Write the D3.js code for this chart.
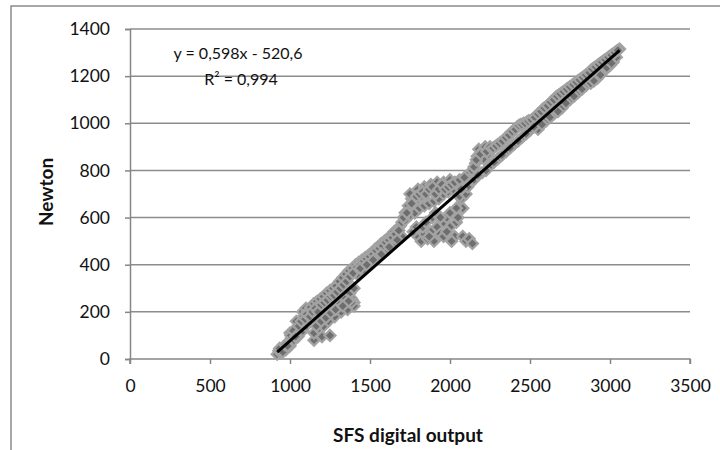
<!DOCTYPE html>
<html><head><meta charset="utf-8">
<script src="https://cdn.jsdelivr.net/npm/d3@7"></script>
<style>body{margin:0;background:#fff;} svg{display:block;font-family:Lato,"Open Sans",sans-serif;}</style>
</head><body><svg id="c" width="720" height="450"></svg>
<script>
// SFS digital output (x) vs Newton (y)
const xValues = [
 920,930,945,960,975,990,1000,1010,1025,1040,1050,1065,1080,1090,1100,
 1000,1040,1080,1100,1150,1200,1250,
 1110,1130,1150,1170,1190,1210,1230,1250,1270,1290,1310,1330,1350,1370,1390,
 1120,1150,1180,1200,1230,1260,1290,1320,1350,
 1150,1180,1210,1240,1280,1320,1350,1370,1390,1400,1380,1360,
 1410,1430,1450,1470,1490,1510,1530,1550,1570,1590,1610,1630,1650,1670,1690,1700,
 1420,1460,1500,1550,1600,1650,1700,
 1720,1740,1760,1780,1800,1820,1840,1860,1880,1900,1920,1940,1960,1980,2000,1750,1770,1790,
 1720,1750,1780,1810,1840,1870,1900,1930,1960,1990,2020,2050,2080,2110,
 1800,1820,1840,1860,1880,1900,1920,1940,1960,1980,2000,2020,2040,2060,2070,2050,2030,2010,2080,2100,2120,2140,1890,1910,1960,1770,1790,
 2060,2080,2100,2120,2110,
 2140,2160,2170,2180,2200,2210,2220,2240,2260,2280,2300,2320,2340,2360,2380,2400,2420,2440,2460,2480,2500,
 2150,2200,2250,2300,2350,2400,2450,2500,
 2520,2540,2560,2580,2600,2620,2640,2660,2680,2700,2720,2740,2760,2780,2800,2820,2840,2860,2880,2900,2920,2940,2960,2980,3000,3020,3040,3060,
 2550,2600,2650,2700,2750,2800,2850,2880,2920,2960,3000,3020,3040,
 935,955,970,985,1005,1020,1035,1055,1070,1085,1095,1105,1125,1140,1160,1175,1195,1215,1235,1255,1275,1295,1315,1335,1355,1375,1395,
 1165,1195,1225,1255,1285,1315,1345,1375,1400,1400,1385,1365,1330,
 1420,1440,1460,1480,1500,1520,1540,1560,1580,1600,1620,1640,1660,1680,1440,1480,1520,1570,1620,1670,
 1710,1730,1760,1790,1810,1830,1850,1870,1890,1910,1930,1950,1970,1990,2010,2030,2060,2090,1830,1850,1870,1940,1980,2000,2040,2070,
 2150,2165,2190,2230,2250,2270,2290,2310,2330,2350,2370,2390,2410,2430,2450,2470,2490,2175,2225,2275,2325,2375,2425,2475,
 2510,2530,2550,2570,2590,2610,2630,2650,2670,2690,2710,2730,2750,2770,2790,2810,2830,2850,2870,2890,2910,2930,2950,2970,2990,3010,3030,3050,
 2525,2575,2625,2675,2725,2775,2825,2900,2940,2980,3010
];
const yValues = [
 20,35,25,50,40,70,55,90,80,110,95,130,120,150,140,
 110,160,200,215,80,95,100,
 200,220,235,245,255,265,280,290,300,310,330,345,360,375,385,
 160,170,190,200,210,230,250,270,290,
 110,130,140,160,180,200,220,235,250,240,260,210,
 400,410,420,430,440,450,465,475,490,500,510,525,540,550,565,580,
 360,380,400,430,460,490,520,
 620,650,680,700,720,690,730,710,740,720,750,730,750,740,760,700,640,660,
 590,610,620,640,650,660,670,680,700,710,720,740,760,780,
 520,500,530,510,540,500,560,530,580,600,560,620,580,650,680,600,520,500,520,500,510,490,600,620,520,540,560,
 690,640,700,760,730,
 800,830,860,890,880,850,900,870,890,900,910,920,930,945,960,970,985,995,1000,1005,1010,
 760,790,820,850,880,910,940,970,
 1020,1030,1045,1060,1070,1080,1095,1110,1120,1130,1140,1150,1160,1170,1180,1190,1200,1210,1225,1235,1245,1255,1265,1275,1285,1295,1305,1315,
 975,1010,1040,1065,1100,1130,1160,1170,1190,1220,1245,1260,1280,
 45,30,60,55,100,120,95,140,160,180,170,190,180,200,215,200,230,240,250,265,270,285,300,315,330,350,365,
 140,160,175,195,210,235,255,280,300,225,240,245,225,
 390,400,415,425,435,445,460,470,480,495,505,515,530,545,385,400,420,445,475,505,
 600,620,660,690,700,710,700,720,730,700,720,740,720,730,740,750,760,770,560,580,520,600,540,620,640,720,
 815,845,870,880,900,895,905,915,925,940,950,965,975,990,995,1000,1010,780,800,835,865,895,925,955,
 1015,1025,1040,1050,1065,1075,1090,1100,1115,1125,1135,1145,1155,1165,1175,1185,1195,1205,1215,1230,1240,1250,1260,1270,1280,1290,1300,1310,
 985,995,1025,1050,1085,1115,1145,1180,1205,1235,1255
];
const xTicks = [0,500,1000,1500,2000,2500,3000,3500];
const yTicks = [0,200,400,600,800,1000,1200,1400];
const trendSlope = 0.598, trendIntercept = -520.6;
const eqLabel = "y = 0,598x - 520,6";
const r2Label = "R² = 0,994";
const xTitle = "SFS digital output";
const yTitle = "Newton";

const svg = d3.select("#c");
const L = 130, R = 690, T = 29, B = 359;
const x = d3.scaleLinear().domain([0,3500]).range([L,R]);
const y = d3.scaleLinear().domain([0,1400]).range([B,T]);

// outer chart frame (cropped)
svg.append("rect").attr("x",11).attr("y",6).attr("width",740).attr("height",470)
  .attr("fill","none").attr("stroke","#8a8a8a").attr("stroke-width",1.5);

// gridlines
svg.append("g").selectAll("line").data(yTicks.filter(d=>d>0)).join("line")
  .attr("x1",L).attr("x2",R).attr("y1",d=>y(d)).attr("y2",d=>y(d))
  .attr("stroke","#8c8c8c").attr("stroke-width",1.5);

// axes
const gx = svg.append("g").attr("transform",`translate(0,${B})`)
  .call(d3.axisBottom(x).tickValues(xTicks).tickSize(5).tickPadding(16).tickFormat(d3.format("d")));
const gy = svg.append("g").attr("transform",`translate(${L},0)`)
  .call(d3.axisLeft(y).tickValues(yTicks).tickSize(5).tickPadding(15).tickFormat(d3.format("d")));
[gx,gy].forEach(g=>{
  g.select(".domain").attr("stroke","#868686").attr("stroke-width",1.5);
  g.selectAll(".tick line").attr("stroke","#868686").attr("stroke-width",1.5);
  g.selectAll("text").attr("font-family","Lato, 'Open Sans', sans-serif").attr("font-size",17.5).attr("fill","#111");
});
gx.select(".domain").attr("d",`M${L},5V0H${R}V5`);

// markers
const pts = xValues.map((v,i)=>[v,yValues[i]]);
const r = 5.5;
svg.append("g").selectAll("path").data(pts).join("path")
  .attr("d",d=>`M${x(d[0])},${y(d[1])-r}L${x(d[0])+r},${y(d[1])}L${x(d[0])},${y(d[1])+r}L${x(d[0])-r},${y(d[1])}Z`)
  .attr("fill","#6e6e6e").attr("stroke","#a3a3a3").attr("stroke-width",2.2);

// trendline
const xMin = d3.min(xValues), xMax = d3.max(xValues);
svg.append("line")
  .attr("x1",x(xMin)).attr("y1",y(trendSlope*xMin+trendIntercept))
  .attr("x2",x(xMax)).attr("y2",y(trendSlope*xMax+trendIntercept))
  .attr("stroke","#000").attr("stroke-width",3);

// equation labels
svg.append("text").attr("x",238).attr("y",59).attr("text-anchor","middle")
  .attr("font-size",16).attr("fill","#111").text(eqLabel);
svg.append("text").attr("x",241).attr("y",85).attr("text-anchor","middle")
  .attr("font-size",16).attr("fill","#111").text(r2Label);

// axis titles
svg.append("text").attr("x",408).attr("y",442).attr("text-anchor","middle")
  .attr("font-size",19).attr("font-weight","bold").attr("fill","#111").text(xTitle);
svg.append("text").attr("transform","translate(53,192) rotate(-90)").attr("text-anchor","middle")
  .attr("font-size",19).attr("font-weight","bold").attr("fill","#111").text(yTitle);
</script></body></html>
